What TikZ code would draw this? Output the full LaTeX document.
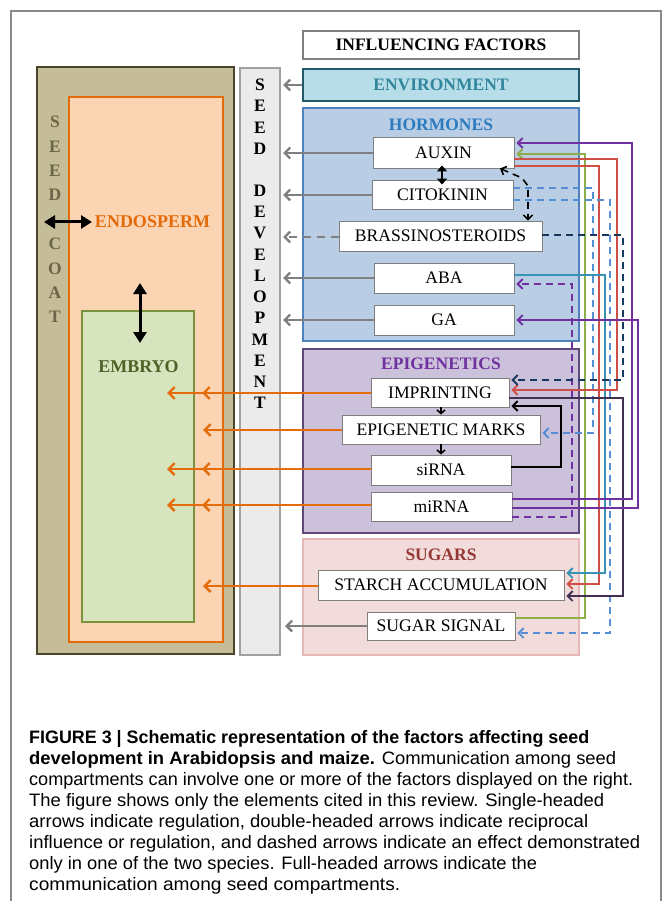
\documentclass[tikz,border=0pt]{standalone}
\usepackage{fontspec}
\setmainfont{Liberation Serif}
\newfontfamily\capfont{Liberation Sans}
\usetikzlibrary{arrows.meta,calc}
\definecolor{framegrey}{HTML}{8A8A8A}
\definecolor{scfill}{HTML}{C4BD97}
\definecolor{scdraw}{HTML}{4A452A}
\definecolor{sctext}{HTML}{6E6447}
\definecolor{endofill}{HTML}{FBD4B4}
\definecolor{endodraw}{HTML}{E36C09}
\definecolor{embfill}{HTML}{D7E4BD}
\definecolor{embdraw}{HTML}{77933C}
\definecolor{embtext}{HTML}{4F6228}
\definecolor{sdfill}{HTML}{EBEBEB}
\definecolor{sddraw}{HTML}{A0A0A0}
\definecolor{envfill}{HTML}{B7DEE8}
\definecolor{envdraw}{HTML}{215968}
\definecolor{envtext}{HTML}{31859C}
\definecolor{hormfill}{HTML}{B9CDE5}
\definecolor{hormdraw}{HTML}{4F81BD}
\definecolor{hormtext}{HTML}{2C7BBF}
\definecolor{epifill}{HTML}{CCC1DA}
\definecolor{epidraw}{HTML}{5F497A}
\definecolor{epitext}{HTML}{7030A0}
\definecolor{sugfill}{HTML}{F2DCDB}
\definecolor{sugdraw}{HTML}{E6B9B8}
\definecolor{sugtext}{HTML}{953735}
\definecolor{boxgrey}{HTML}{7F7F7F}
\definecolor{arrgrey}{HTML}{808080}
\definecolor{corange}{HTML}{E46C0A}
\definecolor{cpurple}{HTML}{7030A0}
\definecolor{cgreen}{HTML}{8CAF4A}
\definecolor{cred}{HTML}{CF4F47}
\definecolor{cteal}{HTML}{3793B5}
\definecolor{cdark}{HTML}{403152}
\definecolor{clblue}{HTML}{558ED5}
\definecolor{cnavy}{HTML}{17375E}
\tikzset{
  lbl/.style={font=\fontsize{17.6}{20}\selectfont},
  hdr/.style={font=\bfseries\fontsize{17.5}{20}\selectfont},
  vlet/.style={font=\bfseries\fontsize{17.5}{20}\selectfont, inner sep=0pt},
  grp/.style={rectangle, line width=2pt, inner sep=0pt},
  inbox/.style={rectangle, draw=boxgrey, fill=white, line width=0.9pt, inner sep=0pt, lbl},
  garrow/.style={draw=arrgrey, line width=2.3pt, -{Straight Barb[length=5.5pt,width=11pt]}},
  oarrow/.style={draw=corange, line width=2.4pt, -{Straight Barb[length=6pt,width=12pt]}},
  conn/.style={line width=1.8pt, -{Straight Barb[length=5pt,width=10pt]}, shorten >=2pt},
  dsh/.style={dash pattern=on 7pt off 5pt},
  bigdbl/.style={line width=3pt, {Triangle[length=11pt,width=13pt]}-{Triangle[length=11pt,width=13pt]}},
  capl/.style={anchor=base west, inner sep=0pt, font=\capfont\fontsize{18}{21}\selectfont}
}
\begin{document}
\begin{tikzpicture}[x=1pt,y=-1pt]
\useasboundingbox (0,0) rectangle (671,901);
\fill[white] (0,0) rectangle (671,901);
\draw[framegrey, line width=1.2pt] (11,901) -- (11,11) -- (661,11) -- (661,901);

% left compartments
\node[grp, draw=scdraw, fill=scfill, minimum width=197pt, minimum height=587pt] (coat) at (135.5,360.5) {};
\node[grp, draw=endodraw, fill=endofill, line width=2.5pt, minimum width=154pt, minimum height=545pt] (endo) at (146,369.5) {};
\node[grp, draw=embdraw, fill=embfill, minimum width=112pt, minimum height=311pt] (emb) at (138,466.5) {};
\node[grp, draw=sddraw, fill=sdfill, minimum width=40pt, minimum height=587pt] (sdev) at (260,361.5) {};

\foreach \l/\k in {S/0,E/1,E/2,D/3,C/5,O/6,A/7,T/8}
  \node[vlet, text=sctext] (sc\k) at (55,122+24.4*\k) {\l};
\foreach \l/\k in {S/0,E/1,E/2,D/3,D/5,E/6,V/7,E/8,L/9,O/10,P/11,M/12,E/13,N/14,T/15}
  \node[vlet] (sd\k) at (260,85+21.2*\k) {\l};

\node[hdr, text=endodraw, inner sep=0pt, font=\bfseries\fontsize{18}{20}\selectfont] (endolbl) at (152.5,222) {ENDOSPERM};
\node[hdr, text=embtext, inner sep=0pt, font=\bfseries\fontsize{18}{20}\selectfont] (emblbl) at (138.5,367) {EMBRYO};

% right groups
\node[grp, draw=boxgrey, fill=white, minimum width=276pt, minimum height=28pt, hdr] (infl) at (441,45) {INFLUENCING FACTORS};
\node[grp, draw=envdraw, fill=envfill, minimum width=276pt, minimum height=32pt, hdr, text=envtext] (env) at (441,85) {ENVIRONMENT};
\node[grp, draw=hormdraw, fill=hormfill, minimum width=276pt, minimum height=233pt] (horm) at (441,224.5) {};
\node[grp, draw=epidraw, fill=epifill, minimum width=276pt, minimum height=184pt] (epi) at (441,441) {};
\node[grp, draw=sugdraw, fill=sugfill, minimum width=276pt, minimum height=116pt] (sug) at (441,597) {};
\node[hdr, text=hormtext, inner sep=0pt] (hormlbl) at (441,125) {HORMONES};
\node[hdr, text=epitext, inner sep=0pt] (epilbl) at (441,364) {EPIGENETICS};
\node[hdr, text=sugtext, inner sep=0pt] (suglbl) at (441,555) {SUGARS};

% inner boxes
\node[inbox, minimum width=141pt, minimum height=31pt] (auxin) at (443.5,152.5) {AUXIN};
\node[inbox, minimum width=141pt, minimum height=29pt] (cito) at (442.5,194.5) {CITOKININ};
\node[inbox, minimum width=203pt, minimum height=30pt] (brass) at (440.5,236) {BRASSINOSTEROIDS};
\node[inbox, minimum width=140pt, minimum height=30pt] (aba) at (444,278) {ABA};
\node[inbox, minimum width=140pt, minimum height=30pt] (ga) at (444,320) {GA};
\node[inbox, minimum width=138pt, minimum height=29pt] (imp) at (440,392.5) {IMPRINTING};
\node[inbox, minimum width=198pt, minimum height=29pt] (marks) at (441,429.5) {EPIGENETIC MARKS};
\node[inbox, minimum width=140pt, minimum height=30pt] (sirna) at (441,470) {siRNA};
\node[inbox, minimum width=141pt, minimum height=29pt] (mirna) at (441.5,506.5) {miRNA};
\node[inbox, minimum width=246pt, minimum height=30pt] (starch) at (441,585) {STARCH ACCUMULATION};
\node[inbox, minimum width=148pt, minimum height=28pt] (sugsig) at (441,626) {SUGAR SIGNAL};

% free ends
\coordinate (gEnv) at (283,85);
\coordinate (gAux) at (283,153);
\coordinate (gCit) at (283,195);
\coordinate (gBra) at (283,237);
\coordinate (gAba) at (283,278);
\coordinate (gGa) at (283,320);
\coordinate (gSug) at (285,626);
\coordinate (oImpA) at (167,393);
\coordinate (oImpB) at (202,393);
\coordinate (oMar) at (203,430);
\coordinate (oSiA) at (167,469);
\coordinate (oSiB) at (202,469);
\coordinate (oMiA) at (167,505);
\coordinate (oMiB) at (202,505);
\coordinate (oSta) at (203,586);
\coordinate (coatIn) at (44,222);
\coordinate (endoIn) at (92,222);
\coordinate (endoV) at (140,283);
\coordinate (embV) at (140,343);

% grey arrows to seed development
\draw[garrow] (env.west) -- (gEnv);
\draw[garrow] (auxin.west |- gAux) -- (gAux);
\draw[garrow] (cito.west |- gCit) -- (gCit);
\draw[garrow, dash pattern=on 8pt off 6pt] (brass.west |- gBra) -- (gBra);
\draw[garrow] (aba.west |- gAba) -- (gAba);
\draw[garrow] (ga.west |- gGa) -- (gGa);
\draw[garrow] (sugsig.west |- gSug) -- (gSug);

% orange arrows to compartments
\draw[oarrow] (imp.west |- oImpA) -- (oImpA);
\draw[oarrow] (imp.west |- oImpB) -- (oImpB);
\draw[oarrow] (marks.west |- oMar) -- (oMar);
\draw[oarrow] (sirna.west |- oSiA) -- (oSiA);
\draw[oarrow] (sirna.west |- oSiB) -- (oSiB);
\draw[oarrow] (mirna.west |- oMiA) -- (oMiA);
\draw[oarrow] (mirna.west |- oMiB) -- (oMiB);
\draw[oarrow] (starch.west |- oSta) -- (oSta);

% compartment communication
\draw[bigdbl] (coatIn) -- (endoIn);
\draw[bigdbl] (endoV) -- (embV);

% internal links
\draw[line width=2.6pt, {Triangle[length=6pt,width=10pt]}-{Triangle[length=6pt,width=10pt]}] (auxin.south -| 442,0) ++(0,-3) -- ([yshift=-5pt]cito.north -| 442,0);
\draw[line width=1.6pt, -{Straight Barb[length=3.5pt,width=8pt]}] (imp.south -| 441,0) -- (marks.north -| 441,0);
\draw[line width=1.6pt, -{Straight Barb[length=3.5pt,width=8pt]}] (marks.south -| 441,0) -- (sirna.north -| 441,0);
\draw[line width=1.6pt, dsh, {Straight Barb[length=4.5pt,width=9pt]}-{Straight Barb[length=4.5pt,width=9pt]}] (auxin.south -| 500,0) -- (522,178) -- (528,186) -- (brass.north -| 528,0);
\draw[conn, black] (sirna.east |- 0,467) -- (561,467) -- (561,406) -- (imp.east |- 0,406);

% colored connectors
\draw[conn, cpurple, dsh] (mirna.east |- 0,517) -- (572,517) -- (572,284) -- (aba.east |- 0,284);
\draw[conn, cgreen] (sugsig.east |- 0,618) -- (585,618) -- (585,154) -- (auxin.east |- 0,154);
\draw[conn, clblue, dsh] (cito.east |- 0,188) -- (593,188) -- (593,433) -- (marks.east |- 0,433);
\draw[conn, cred] (auxin.east |- 0,166) -- (599,166) -- (599,584) -- (starch.east |- 0,584);
\draw[conn, cteal] (aba.east |- 0,275) -- (605,275) -- (605,573) -- (starch.east |- 0,573);
\draw[conn, clblue, dsh] (cito.east |- 0,200) -- (610,200) -- (610,633) -- (sugsig.east |- 0,633);
\draw[conn, cred] (auxin.east |- 0,159) -- (617,159) -- (617,390) -- (imp.east |- 0,390);
\draw[conn, cnavy, dsh] (brass.east |- 0,235) -- (623,235) -- (623,380) -- (imp.east |- 0,380);
\draw[conn, cdark] (imp.east |- 0,398) -- (623,398) -- (623,596) -- (starch.east |- 0,596);
\draw[conn, cpurple] (mirna.east |- 0,499) -- (632,499) -- (632,143) -- (auxin.east |- 0,143);
\draw[conn, cpurple] (mirna.east |- 0,508) -- (638,508) -- (638,320) -- (ga.east |- 0,320);

% caption
\node[capl] (cap1) at (29,743) {\resizebox{560pt}{\height}{\bfseries FIGURE 3 | Schematic representation of the factors affecting seed}};
\node[capl] (cap2) at (29,764) {\resizebox{587pt}{\height}{\textbf{development in Arabidopsis and maize.} Communication among seed}};
\node[capl] (cap3) at (29,785) {\resizebox{604pt}{\height}{compartments can involve one or more of the factors displayed on the right.}};
\node[capl] (cap4) at (29,806) {\resizebox{575pt}{\height}{The figure shows only the elements cited in this review. Single-headed}};
\node[capl] (cap5) at (29,827) {\resizebox{559pt}{\height}{arrows indicate regulation, double-headed arrows indicate reciprocal}};
\node[capl] (cap6) at (29,848) {\resizebox{611pt}{\height}{influence or regulation, and dashed arrows indicate an effect demonstrated}};
\node[capl] (cap7) at (29,869) {\resizebox{508pt}{\height}{only in one of the two species. Full-headed arrows indicate the}};
\node[capl] (cap8) at (29,890) {\resizebox{371pt}{\height}{communication among seed compartments.}};
\end{tikzpicture}
\end{document}
